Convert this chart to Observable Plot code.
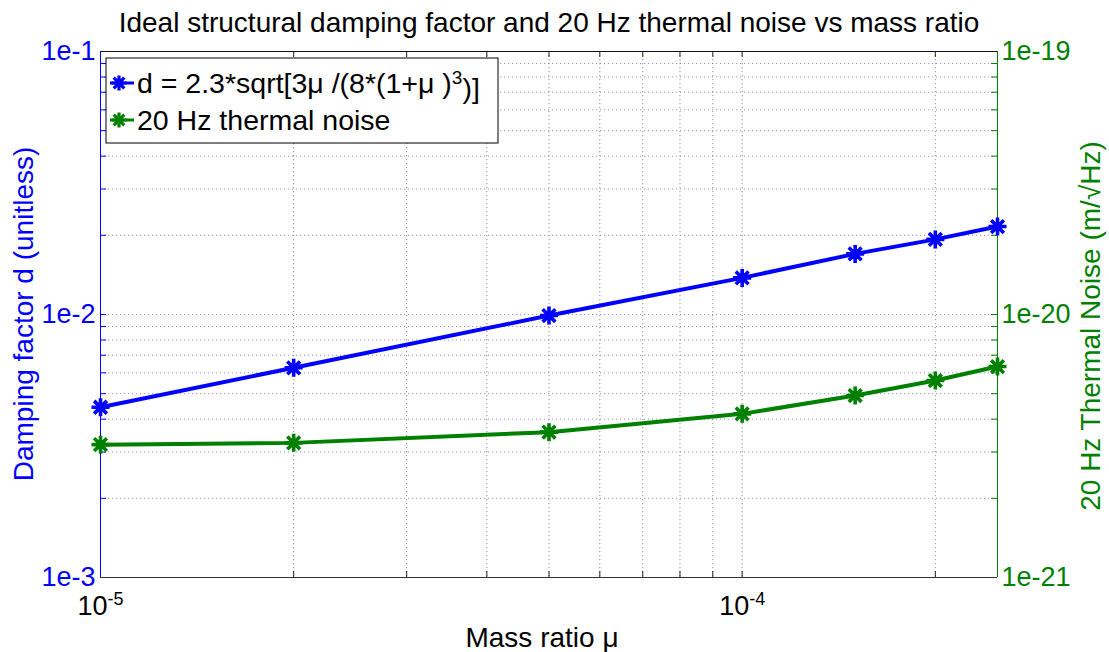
<!DOCTYPE html>
<html>
<head>
<meta charset="utf-8">
<script src="https://cdn.jsdelivr.net/npm/d3@7"></script>
<script src="https://cdn.jsdelivr.net/npm/@observablehq/plot@0.6"></script>
<style>
  html, body { margin: 0; padding: 0; background: #fff; }
  #chart { width: 1109px; height: 652px; }
  svg { font-family: "Liberation Sans", Arial, Helvetica, sans-serif; }
</style>
</head>
<body>
<div id="chart"></div>
<script>
// ---- data ----
const massRatio = [1e-5, 2e-5, 5e-5, 1e-4, 1.5e-4, 2e-4, 2.5e-4];
const dampingFactor = [4.44e-3, 6.27e-3, 9.91e-3, 1.378e-2, 1.70e-2, 1.93e-2, 2.16e-2];
const thermalNoise = [3.20e-21, 3.25e-21, 3.57e-21, 4.19e-21, 4.92e-21, 5.61e-21, 6.34e-21];

const xDomain = [1e-5, 2.5e-4];
const leftDomain = [1e-3, 1e-1];
const rightDomain = [1e-21, 1e-19];

const xMajorTicks = [1e-5, 1e-4];
const xMajorLabels = ["10^-5", "10^-4"];
const xAllTicks = [1e-5, 2e-5, 3e-5, 4e-5, 5e-5, 6e-5, 7e-5, 8e-5, 9e-5, 1e-4, 2e-4];
const yMajorTicks = [1e-3, 1e-2, 1e-1];
const leftTickLabels = ["1e-3", "1e-2", "1e-1"];
const rightTickLabels = ["1e-21", "1e-20", "1e-19"];
const yAllTicks = [1e-3, 2e-3, 3e-3, 4e-3, 5e-3, 6e-3, 7e-3, 8e-3, 9e-3,
                   1e-2, 2e-2, 3e-2, 4e-2, 5e-2, 6e-2, 7e-2, 8e-2, 9e-2, 1e-1];

const titleText = "Ideal structural damping factor and 20 Hz thermal noise vs mass ratio";
const xLabelText = "Mass ratio \u03bc";
const leftLabelText = "Damping factor d (unitless)";
const rightLabelText = "20 Hz Thermal Noise (m/\u221aHz)";
const legendLabels = ["d = 2.3*sqrt[3\u03bc /(8*(1+\u03bc )", "20 Hz thermal noise"];

const BLUE = "#0000ff";
const GREEN = "#008000";

// ---- layout ----
const W = 1109, H = 652;
const mL = 100, mR = 112, mT = 51, mB = 75;
const innerW = W - mL - mR, innerH = H - mT - mB;
const tickLen = 6;

// map right-axis values onto the left scale (both span two decades)
const k = leftDomain[0] / rightDomain[0];
const rows = massRatio.map((m, i) => ({m, d: dampingFactor[i], n: thermalNoise[i] * k}));

// 8-armed asterisk marker (like MATLAB '*')
const asterisk8 = {
  draw(ctx, size) {
    const r = Math.sqrt(size / Math.PI);
    for (const a of [0, 45, 90, 135]) {
      const t = a * Math.PI / 180;
      ctx.moveTo(r * Math.cos(t), r * Math.sin(t));
      ctx.lineTo(-r * Math.cos(t), -r * Math.sin(t));
    }
  }
};

const svg = Plot.plot({
  width: W, height: H,
  marginLeft: mL, marginRight: mR, marginTop: mT, marginBottom: mB,
  style: {fontFamily: "Liberation Sans, Arial, sans-serif", background: "#fff"},
  x: {type: "log", domain: xDomain},
  y: {type: "log", domain: leftDomain},
  marks: [
    // grid
    Plot.gridY(yAllTicks.slice(1, -1), {stroke: "#8080d0", strokeOpacity: 0.85, strokeDasharray: "1.2,2.8", strokeWidth: 1}),
    Plot.gridX(xAllTicks.slice(1), {stroke: "#777", strokeOpacity: 0.85, strokeDasharray: "1.2,2.8", strokeWidth: 1}),
    // inward ticks
    Plot.tickX(xAllTicks, {x: d => d, insetTop: innerH - tickLen, stroke: "#222"}),
    Plot.tickX(xAllTicks, {x: d => d, insetBottom: innerH - tickLen, stroke: "#222"}),
    Plot.tickY(yAllTicks, {y: d => d, insetRight: innerW - tickLen, stroke: BLUE}),
    Plot.tickY(yAllTicks, {y: d => d, insetLeft: innerW - tickLen, stroke: GREEN}),
    // frame
    Plot.ruleY([leftDomain[1]], {stroke: "#111"}),
    Plot.ruleY([leftDomain[0]], {stroke: "#333"}),
    Plot.ruleX([xDomain[0]], {stroke: BLUE}),
    Plot.ruleX([xDomain[1]], {stroke: GREEN}),
    // axes labels
    Plot.axisX(xMajorTicks, {tickSize: 0, tickPadding: 18, fontSize: 27, fill: "#000",
      tickFormat: d => xMajorLabels[xMajorTicks.indexOf(d)], label: null}),
    Plot.axisY(yMajorTicks, {anchor: "left", tickSize: 0, tickPadding: 5, fontSize: 27, fill: BLUE,
      tickFormat: d => leftTickLabels[yMajorTicks.indexOf(d)], label: null}),
    Plot.axisY(yMajorTicks, {anchor: "right", tickSize: 0, tickPadding: 4, fontSize: 27, fill: GREEN,
      tickFormat: d => rightTickLabels[yMajorTicks.indexOf(d)], label: null}),
    // series
    Plot.line(rows, {x: "m", y: "d", stroke: BLUE, strokeWidth: 4}),
    Plot.dot(rows, {x: "m", y: "d", symbol: asterisk8, r: 9, stroke: BLUE, strokeWidth: 3.6, fill: "none"}),
    Plot.line(rows, {x: "m", y: "n", stroke: GREEN, strokeWidth: 4}),
    Plot.dot(rows, {x: "m", y: "n", symbol: asterisk8, r: 9, stroke: GREEN, strokeWidth: 3.6, fill: "none"})
  ]
});

document.getElementById("chart").appendChild(svg);

const s = d3.select(svg);

// superscript exponents on x tick labels
s.selectAll('g[aria-label="x-axis tick label"] text').each(function() {
  const t = d3.select(this);
  const parts = t.text().split("^");
  t.text(parts[0]);
  t.append("tspan").attr("dy", "-0.55em").attr("font-size", "18px").text(parts[1]);
});

// title and axis labels
s.append("text").attr("x", 549).attr("y", 32).attr("text-anchor", "middle")
  .attr("font-size", 28).attr("fill", "#000").text(titleText);
s.append("text").attr("x", 542).attr("y", 647).attr("text-anchor", "middle")
  .attr("font-size", 28).attr("fill", "#000").text(xLabelText);
s.append("text").attr("transform", "translate(33,314) rotate(-90)").attr("text-anchor", "middle")
  .attr("font-size", 28).attr("fill", BLUE).text(leftLabelText);
s.append("text").attr("transform", "translate(1100,326) rotate(-90)").attr("text-anchor", "middle")
  .attr("font-size", 28).attr("fill", GREEN).text(rightLabelText);

// legend
const lg = s.append("g");
lg.append("rect").attr("x", 106).attr("y", 58).attr("width", 392).attr("height", 85)
  .attr("fill", "#fff").attr("stroke", "#000").attr("stroke-width", 1);
const legendColors = [BLUE, GREEN];
const rowY = [83, 120];
const symPath = d3.symbol(asterisk8, 7.5 * 7.5 * Math.PI)();
legendColors.forEach((c, i) => {
  lg.append("line").attr("x1", 110).attr("x2", 134).attr("y1", rowY[i]).attr("y2", rowY[i])
    .attr("stroke", c).attr("stroke-width", 3);
  lg.append("path").attr("d", symPath).attr("transform", `translate(119,${rowY[i]})`)
    .attr("stroke", c).attr("stroke-width", 3.2).attr("fill", "none");
  const t = lg.append("text").attr("x", 137).attr("y", rowY[i] + 10).attr("text-anchor", "start")
    .attr("font-size", 28.5).attr("fill", "#000").text(legendLabels[i]);
  if (i === 0) {
    t.append("tspan").attr("dy", "-0.5em").attr("font-size", "19px").text("3");
    t.append("tspan").attr("dy", "0.5em").text(")]");
  }
});
</script>
</body>
</html>
